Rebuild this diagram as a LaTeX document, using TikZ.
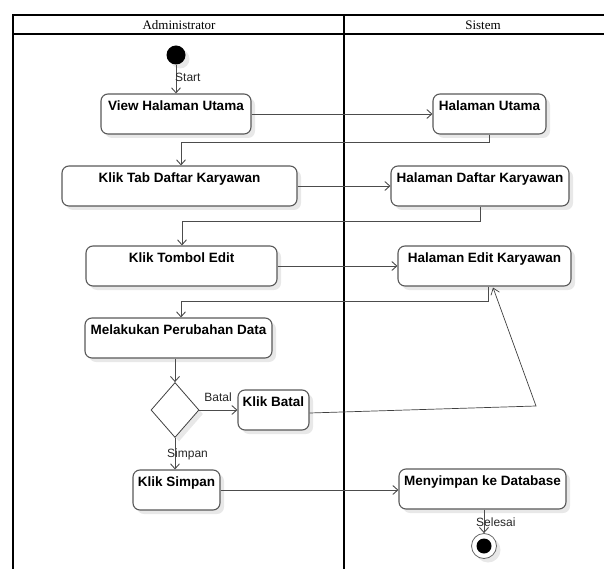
\documentclass[tikz,border=0pt]{standalone}
\usepackage{fontspec}
\setmainfont{Liberation Sans}
\newfontfamily\headfont{Liberation Serif}
\usetikzlibrary{arrows.meta,shadows,shapes.geometric}
\begin{document}
\begin{tikzpicture}[x=1pt,y=-1pt,
  softshadow/.style={drop shadow={shadow xshift=4pt, shadow yshift=-4pt, fill=black!9, opacity=1}},
  act/.style={draw=black!65, line width=1.1pt, rounded corners=7pt, fill=white,
    minimum height=40pt, inner sep=0pt, softshadow},
  acttext/.style={font=\bfseries\fontsize{13.5}{15}\selectfont, inner sep=0pt, anchor=north},
  flow/.style={draw=black!70, line width=0.9pt, -{Straight Barb[length=5pt,width=9pt]}},
  back/.style={draw=black!75, line width=0.7pt, -{Straight Barb[length=6pt,width=9pt]}},
  guard/.style={font=\fontsize{12}{14}\selectfont, inner sep=0pt, text=black!85},
  lane/.style={line width=1.6pt, draw=black},
  header/.style={font=\headfont\fontsize{13}{15}\selectfont, inner sep=0pt}]
\useasboundingbox (0,0) rectangle (604,569);

% swimlane frame
\draw[lane] (13,569) -- (13,15) -- (604,15);
\draw[lane] (13,34) -- (604,34);
\draw[lane] (344,15) -- (344,569);
\node[header] (hAdmin) at (179,25) {Administrator};
\node[header] (hSys) at (483,25) {Sistem};

% initial and final states
\node[circle, fill=black, minimum size=19pt, inner sep=0pt, softshadow] (start) at (176,55) {};
\node[circle, draw=black!60, fill=white, line width=0.8pt, minimum size=25pt, inner sep=0pt, softshadow] (stop) at (484,546) {};
\node[circle, fill=black, minimum size=15pt, inner sep=0pt] (stopdot) at (stop.center) {};

% actions
\node[act, minimum width=150pt] (vhu)  at (176,114)   {};
\node[act, minimum width=113pt] (hu)   at (489.5,114) {};
\node[act, minimum width=235pt] (ktdk) at (179.5,186) {};
\node[act, minimum width=178pt] (hdk)  at (480,186)   {};
\node[act, minimum width=191pt] (kte)  at (181.5,266) {};
\node[act, minimum width=173pt] (hek)  at (484.5,266) {};
\node[act, minimum width=187pt] (mpd)  at (178.5,338) {};
\node[act, minimum width=71pt]  (kb)   at (273.5,410) {};
\node[act, minimum width=87pt]  (ks)   at (176.5,490) {};
\node[act, minimum width=167pt] (mkd)  at (482.5,489) {};

\node[acttext] (vhuT)  at ([yshift=-7pt]vhu.north)  {View Halaman Utama};
\node[acttext] (huT)   at ([yshift=-7pt]hu.north)   {Halaman Utama};
\node[acttext] (ktdkT) at ([yshift=-7pt]ktdk.north) {Klik Tab Daftar Karyawan};
\node[acttext] (hdkT)  at ([yshift=-7pt]hdk.north)  {Halaman Daftar Karyawan};
\node[acttext] (kteT)  at ([yshift=-7pt]kte.north)  {Klik Tombol Edit};
\node[acttext] (hekT)  at ([yshift=-7pt]hek.north)  {Halaman Edit Karyawan};
\node[acttext] (mpdT)  at ([yshift=-7pt]mpd.north)  {Melakukan Perubahan Data};
\node[acttext] (kbT)   at ([yshift=-7pt]kb.north)   {Klik Batal};
\node[acttext] (ksT)   at ([yshift=-7pt]ks.north)   {Klik Simpan};
\node[acttext] (mkdT)  at ([yshift=-7pt]mkd.north)  {Menyimpan ke Database};

% decision
\node[diamond, draw=black!75, line width=0.8pt, fill=white, minimum width=48pt, minimum height=55pt,
  inner sep=0pt, softshadow] (dec) at (175,410) {};

% bend points
\coordinate (j1) at (181,142);
\coordinate (j2) at (182,221);
\coordinate (j3) at (181,301);
\coordinate (j4) at (536,406);

% flows
\draw[flow] (start) -- (vhu.north -| start);
\draw[flow] (vhu.east) -- (hu.west);
\draw[flow] (hu.south) |- (j1) -- (j1 |- ktdk.north);
\draw[flow] (ktdk.east) -- (hdk.west);
\draw[flow] (hdk.south) |- (j2) -- (j2 |- kte.north);
\draw[flow] (kte.east) -- (hek.west);
\draw[flow] ([xshift=4pt]hek.south) |- (j3) -- (j3 |- mpd.north);
\draw[flow] (dec.north |- mpd.south) -- (dec.north);
\draw[flow] (dec.east) -- (kb.west);
\draw[flow] (dec.south) -- (dec.south |- ks.north);
\draw[flow] (ks.east) -- (ks.east -| mkd.west);
\draw[flow] (mkd.south -| stop) -- (stop.north);
\draw[back] ([yshift=-3pt]kb.east) -- (j4) -- ([xshift=8.5pt,yshift=-1pt]hek.south);

% guards
\node[guard, anchor=west] (gStart) at (175,77) {Start};
\node[guard] (gBatal) at (218,397) {Batal};
\node[guard, anchor=west] (gSimpan) at (167,454) {Simpan};
\node[guard, anchor=west] (gSelesai) at (476,522) {Selesai};
\end{tikzpicture}
\end{document}
